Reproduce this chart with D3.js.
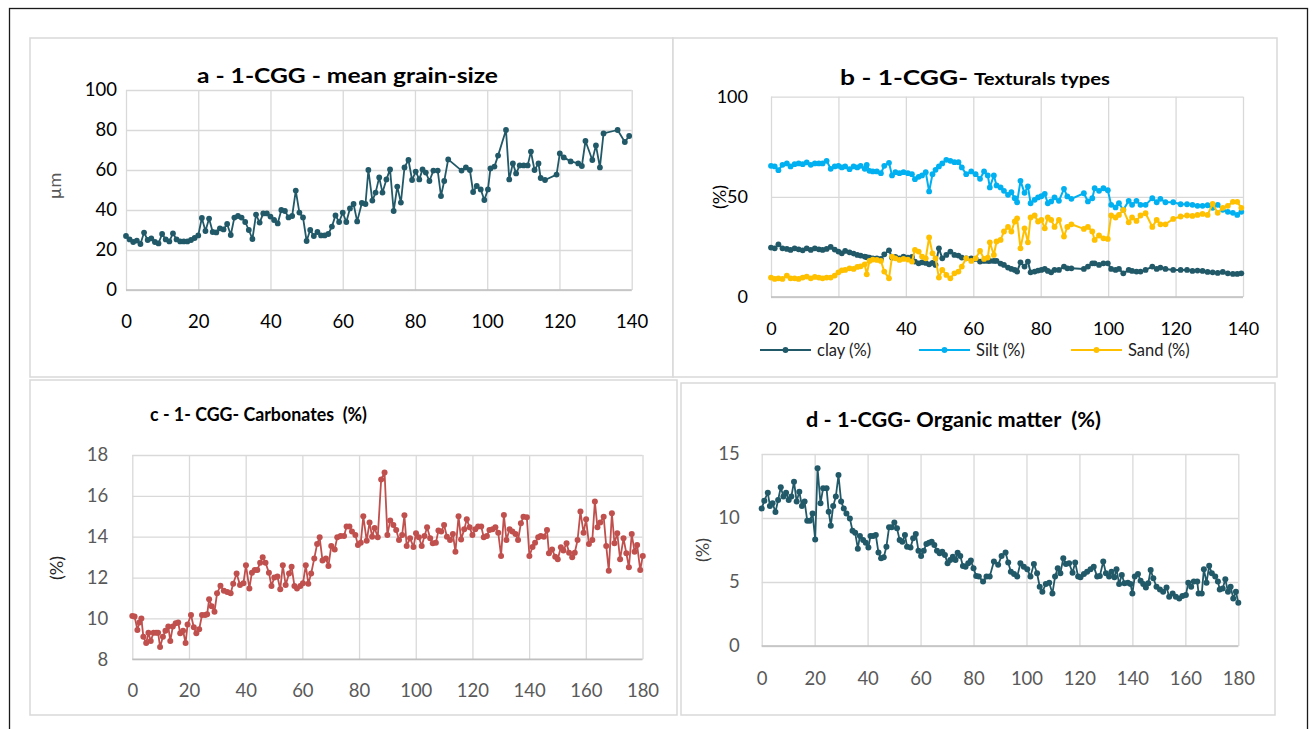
<!DOCTYPE html>
<html>
<head>
<meta charset="utf-8">
<script src="https://cdn.jsdelivr.net/npm/d3@7"></script>
<style>
  html, body { margin: 0; padding: 0; background: #fff; }
  svg { display: block; font-family: Lato, "Open Sans", "Noto Sans", sans-serif; }
  .title { white-space: pre; font-weight: 700; fill: #000; }
</style>
</head>
<body>
<svg id="fig" width="1314" height="729"></svg>
<script>
// ---------- a: mean grain-size (µm) versus depth ----------
const depthA = [0,1,2,3,4,5,6,7,8,9,10,11,12,13,14,15,16,17,18,19,20,21,22,23,24,25,26,27,28,29,30,31,32,33,34,35,36,37,38,39,40,41,42,43,44,45,46,47,48,49,50,51,52,53,54,55,56,57,58,59,60,61,62,63,64,65.3,66.3,67.1,68.2,69.1,70.1,71,72.1,73.1,74.1,75.1,76.1,77.1,78.2,79.2,80.2,81.2,82.1,83,84,85.1,86.3,87.2,88.1,89.2,92.9,94.1,95.2,96.1,97.1,98.2,99.2,100.2,100.9,102,103,105.2,106.1,107.1,108,109,110.1,111.2,112.1,113.1,114.2,114.8,116,119.2,120.1,121.2,123.1,125.2,126.2,127.2,129.1,130.1,131.2,132.2,136.1,138.1,139.3];
const grainSize = [27,25.3,24,24.7,23,28.7,25,25.8,24,23.3,28,25.3,24.3,28.3,25.3,24.3,24.3,24.3,25,26,27.3,36,29.5,35.7,29,28.8,30.8,30.3,33,27.5,36.2,37,36.2,34,30,25.5,37.7,33.7,38.3,38.3,36.7,35,33.3,40,39.5,36.3,37,49.7,38.7,36.3,24.5,30,27,29,27.3,27.3,28,31.7,37.3,34,38.7,34,40.8,43,34.3,43.5,43,60,44.7,48.7,56.3,48.7,55.3,60.3,39.5,51.7,43.7,61.3,65,55,59.2,55.3,60.3,58.7,54.5,59.7,59.7,47,54.5,65.3,59.7,61.3,60,49,52,50.3,45,50.3,60.8,61.7,67.2,80,55.3,63.3,58.3,62.3,62.3,62.3,69.2,60,63.3,56,55,57.7,68.3,66.3,64.3,63.3,62,74.5,65,72.3,61.3,78.3,80,74,77];
const ticksA_x = [0,20,40,60,80,100,120,140];
const ticksA_y = [0,20,40,60,80,100];

// ---------- b: textural fractions (%) versus depth ----------
const depthB = [0,1.1,2.2,3.4,4.7,5.8,7,8.2,9.4,10.6,11.8,13,14.2,15.3,16.5,17.7,18.9,20,21,22,23.3,24.5,25.6,26.6,27.8,28.4,29.2,30.2,31.4,32.6,33.6,35,35.9,36.9,38.1,39.3,40.6,41.8,42.7,43.8,44.8,45.9,46.9,47.9,48.8,49.8,50.8,52,53.2,54.4,55.6,56.6,57.9,59.4,60.7,62,63.2,64.3,64.9,66.1,66.9,68.1,69.1,70.3,71.3,72.3,73,74,75.2,76.2,77,78.2,79.2,80.2,81.2,82.1,83.1,84.1,85.4,86.9,87.9,89.1,92.8,94,95.3,96,97.3,98.6,99.9,100.9,102.2,103.2,104.5,106.1,107.1,108.4,109.6,111.1,113.1,114.4,115.5,117,119.3,121.5,123.4,125,126.5,128,129.5,131,132.5,134,135.5,137,138.3,139.5];
const clay = [24.7,24.3,26.3,24.3,24,23.5,24.3,23.8,23.3,24.3,23.5,24.3,23.8,23.5,24,25,23.7,22.7,21.8,23,22.3,21.7,21,20.7,20.2,19.9,19.7,19.3,19.3,19,21.3,23.3,19.7,20,19.3,20.2,19.7,20,17.7,16.8,17.3,17,16.3,17,16,24.3,19.3,21,22.7,21,20.7,19.7,19.3,19.3,19,17.7,18,18,18,18,18,16.7,16,14.7,14,13.5,12.7,17.3,15.2,17.7,12.3,12.7,13.2,13.5,14,13,12.3,13.5,13.5,15.2,14.3,14.3,14,15.2,16.8,16.8,16,16.8,16.8,14,13.5,14,11.8,13.5,13,12.7,12.7,13.5,15.2,14,14.7,14,13.5,13.5,13.5,13,13.2,13,12.5,12.3,12,12.5,11.8,11.5,11.5,11.8];
const silt = [65.5,65.2,63.3,66,66.7,65.2,66.3,66.7,66.3,67.2,66,66.7,66.7,66.7,68,64,65.2,65.5,64.7,65.2,63.8,65.2,64.7,65.5,64,66,63,62.7,62.7,61.8,65.5,67,60.7,62.3,61.8,62.3,61.8,61.3,58.8,60,60.7,62.3,52.7,61.3,63.5,65.2,66.7,68.5,68,67.3,67.3,64.7,61.3,62.7,61.3,59,62.7,60.7,54.7,60.7,55.7,54.7,53,51,52.3,49.3,47.3,58,52,55.2,46.8,48.5,49.7,50.3,51.5,46.8,47.7,49.7,48,54,50.2,49,51.8,47.7,49.3,54.3,53,54.3,53.3,46,44.7,46.8,43.5,48,46,48,46,46,49.3,47.3,49,47.3,47.3,46.3,46.3,46,45.5,45.5,45.8,44.5,46,43.5,42.5,42,41,42.5];
const sand = [9.7,9,9.3,9,10.7,9.3,9.3,9,9.7,10.2,9.3,10,9.7,9.3,9.7,9.7,10.7,12.3,13.3,13.5,14.3,14,15,15.3,16.3,11.3,18,18.7,18.5,18,12.7,9.3,20.2,19.3,18.5,19,18.7,17.7,23.5,22.7,20.2,19.3,29.7,21.8,19.3,9.7,13.5,11,9.3,11.8,12.7,15.2,19.3,18,19.3,23,19,19.7,27.3,21,27.7,28.5,32.7,35,32.7,37.7,39.3,24.3,34.3,27.3,39.7,40.7,37.7,38.5,34.3,39.7,38.5,35,38.5,30.2,35,36.3,34,35,32.7,28.5,30.7,29.3,29,40.7,39.7,41,43.5,37.3,39.7,38,40.7,41.8,35,38.5,36.3,36.3,39,40.2,40.7,40.5,41,41.5,41,46.5,42,44.5,45.5,47.5,47.5,44.5];
const ticksB_x = [0,20,40,60,80,100,120,140];
const ticksB_y = [0,50,100];
const seriesB = ["clay (%)", "Silt (%)", "Sand (%)"];

// ---------- c: carbonates (%) versus depth ----------
const depthC = [0,0.8,1.8,2.5,3.2,3.9,4.9,5.7,6.5,7.5,8.4,9.1,9.8,10.8,11.7,12.7,13.4,14.3,15.3,16.2,16.9,17.9,18.8,19.5,20.7,21.7,22.6,23.6,24.6,25.7,26.4,27.1,28,29,29.9,31.1,32.3,33.5,34.7,35.6,36.8,38,39.2,40.1,41.3,42.2,43.2,44.1,45.1,46,47,48.2,49.1,50.1,51.2,52.2,53.1,54.1,55.3,56.2,57.2,58.1,59.3,60.2,61.2,62.1,63.1,64.2,65.2,66.1,67.1,68.3,69.2,70.2,71.4,72.3,73.5,74.7,75.6,76.6,77.5,78.7,79.6,80.6,81.5,82.7,83.7,84.6,85.5,86.6,87.8,89,90,91,92.1,93.1,94.1,95.2,96,96.8,98,99.2,100.1,101.1,102.1,103.1,104,105.1,106,107.1,108,109,110,111,112.1,113.1,114,115.1,116,117.1,118,119,120,121,122,123.1,124,125.1,126,127.1,128.1,129.1,130.1,131.1,132,133.1,134.1,135.2,136.1,137.1,138,139.2,140.1,141.2,142.1,143.2,144.1,145.2,146.3,147,148.1,149.2,150.1,151.2,152.1,153.2,154.1,155.2,156.1,157.1,158.1,159.2,160.1,161.1,162.3,163.2,164.1,165.1,166.3,167.2,168.1,169.2,170.1,171.1,172.1,173.3,174.3,175.2,176.2,177.2,178.1,179.2,180.1];
const carbonates = [10.12,10.1,9.44,9.8,10,9.1,8.8,9.3,8.9,9.3,9.3,9.3,8.6,9.1,9.4,9.6,8.9,9.6,9.76,9.8,9.27,9.4,8.8,9.7,10.17,9.57,9.27,9.47,10.17,10.17,10.2,10.94,10.6,10.33,11.23,11.6,11.36,11.3,11.23,11.7,12.2,11.64,11.72,12.6,11.47,12.24,12.37,12.37,12.73,12.99,12.73,12.24,11.59,12,12.05,11.43,12.6,11.64,12.2,12.53,11.59,11.46,11.59,11.72,12.6,11.7,12.2,12.94,13.64,13.97,12.83,12.94,12.57,13.55,13.38,13.97,14.04,14.04,14.5,14.5,14.25,14.08,13.6,13.7,15,13.8,14.7,14,14.43,13.97,16.8,17.14,14.08,14.8,14.57,14.33,13.84,14.08,15.05,13.55,13.92,13.5,14.17,13.97,13.55,14.04,14.46,13.92,13.68,13.7,14.3,14.25,14.57,14,13.84,14.13,13.27,15,13.87,14.36,14.85,14.46,14.08,14.36,14.5,14.5,13.97,14.04,14.33,14.36,14.46,14.2,13.06,15.06,13.84,14.36,14.25,14.13,13.84,14.66,14.98,14.95,13.06,13.5,13.7,13.97,14.04,14,14.33,13.19,13.38,13.02,12.9,13.48,13.32,13.68,13.22,12.99,13.22,13.84,15.23,14.2,14.85,13.64,13.84,15.72,14.46,14.69,14.98,13.55,12.34,15.15,13.68,14.17,12.9,13.92,13.19,12.5,14.13,13.27,13.6,12.37,13.06];
const ticksC_x = [0,20,40,60,80,100,120,140,160,180];
const ticksC_y = [8,10,12,14,16,18];

// ---------- d: organic matter (%) versus depth ----------
const depthD = [0,1,2.3,3.1,4.1,5.2,6.2,7.2,8.2,9.2,10.2,11.2,12.2,13.2,14.2,15.2,16.2,17.2,18.2,19.2,20.2,21.1,22.2,23.2,24.5,25.3,26.1,27,28,29,30,31,32,33.3,34.3,35.3,36.3,37.1,38.3,39.3,40.3,41.1,42.1,43.1,44.1,45.1,46.1,47.1,48.1,49.1,50.1,51.1,52.1,53.1,54.1,54.9,56.2,57.2,58.2,59.2,60.2,61.2,62.2,63.2,64.2,65.2,66.2,67.2,68.2,69.2,70.2,71.2,72.2,73.2,74,75,76,77,78,79,80,81,82,83.6,84.9,86.1,87.7,89.3,90.6,92.1,93.1,94.1,95.3,96.5,97.7,99,100.3,101.5,102.8,104,105,106,107.3,108.6,109.8,110.8,111.8,112.8,113.9,114.9,116.1,117.4,118.4,119.5,120.4,121.7,122.9,124.2,125.4,126.7,127.7,129,130,131.2,132.1,133.2,134,135,136,137,138.3,139.3,140,140.9,142.1,143.1,144.1,145.1,146,146.9,147.9,149.1,150.4,151.6,152.9,153.9,155.2,156.4,157.7,158.9,160.2,161.1,162.2,163.2,164.5,165,166.2,167,168,169,170,171.3,172.3,173,174.1,175.1,176.1,177.1,178.1,179.1,180];
const organicMatter = [10.75,11.35,11.98,10.94,11.15,10.47,11.4,12.4,11.67,11.98,11.4,11.67,12.84,11.28,12.06,10.94,11.28,9.79,9.79,10.36,8.33,13.88,11.15,12.32,12.32,10.49,9.4,10.94,11.67,13.36,11.28,10.75,10.36,9.97,9,8.85,7.6,8.6,8.28,8.07,7.7,8.6,8.6,8.67,7.3,6.85,6.93,7.76,9.27,9.27,9.64,9.19,8.28,8.15,8.67,7.76,7.7,8.41,8.75,7.45,7.03,7.45,7.97,8.07,8.15,7.89,7.45,7.24,7.37,7.11,6.46,6.72,6.98,6.72,7.29,7.03,6.25,6.2,6.46,6.67,6.07,5.47,5.42,5.03,5.42,5.42,6.6,6.34,7.04,7.3,6.52,5.81,5.63,5.42,6.47,6.2,6,5.42,6.41,5.68,4.63,4.24,4.84,4.95,4.11,5.42,6.07,5.68,6.86,6.41,6.47,5.73,6.52,5.42,5.37,5.63,5.81,6,6.2,5.42,5.47,6.6,5.68,5.42,5.81,5.37,6,4.84,5.55,4.9,4.95,4.84,4.11,5.42,5.63,5.1,4.84,4.58,4.9,5.94,5.29,4.63,4.42,4.24,4.58,3.85,4.11,3.85,3.72,3.9,3.98,4.95,4.63,5.03,5.03,4.11,4.11,6,4.95,6.26,5.68,5.42,5.03,4.42,4.5,5.21,4.24,4.63,3.72,4.24,3.38];
const ticksD_x = [0,20,40,60,80,100,120,140,160,180];
const ticksD_y = [0,5,10,15];

// ---------- colours ----------
const TEAL = "#215968", SKY = "#00b0f0", GOLD = "#ffc000", BRICK = "#c0504d";
const GRID = "#d9d9d9", AXIS = "#bfbfbf";

const svg = d3.select("#fig");

// outer frame of the figure
svg.append("rect")
  .attr("x", 9.5).attr("y", 8.5).attr("width", 1298).attr("height", 760)
  .attr("fill", "none").attr("stroke", "#1a1a1a").attr("stroke-width", 1.3);

// chart-area boxes
const boxes = [
  {x: 30, y: 38, w: 643, h: 339},
  {x: 673, y: 38, w: 604, h: 339},
  {x: 30, y: 380, w: 647, h: 335},
  {x: 681, y: 383, w: 594, h: 332}
];
svg.selectAll("rect.box").data(boxes).join("rect")
  .attr("class", "box")
  .attr("x", d => d.x).attr("y", d => d.y).attr("width", d => d.w).attr("height", d => d.h)
  .attr("fill", "#fff").attr("stroke", GRID).attr("stroke-width", 1.5);

// one XY panel: grid, axes, tick labels and the plotted series
function panel(o) {
  const x = d3.scaleLinear().domain(o.xDomain).range([o.left, o.right]);
  const y = d3.scaleLinear().domain(o.yDomain).range([o.bottom, o.top]);
  const g = svg.append("g");

  // horizontal gridlines
  g.append("g").attr("transform", `translate(${o.left},0)`)
    .call(d3.axisLeft(y).tickValues(o.yTicks).tickSize(-(o.right - o.left)).tickFormat(""))
    .call(s => s.select(".domain").remove())
    .selectAll("line").attr("stroke", GRID).attr("stroke-width", 1.3);

  // vertical gridlines
  g.append("g").attr("transform", `translate(0,${o.bottom})`)
    .call(d3.axisBottom(x).tickValues(o.xTicks).tickSize(-(o.bottom - o.top)).tickFormat(""))
    .call(s => s.select(".domain").remove())
    .selectAll("line").attr("stroke", GRID).attr("stroke-width", 1.3);

  // horizontal axis line
  g.append("line")
    .attr("x1", x(o.xDomain[0])).attr("x2", x(o.xDomain[1]))
    .attr("y1", y(o.yDomain[0])).attr("y2", y(o.yDomain[0]))
    .attr("stroke", AXIS).attr("stroke-width", 1.6);

  // tick labels
  const yAx = g.append("g").attr("transform", `translate(${o.left},0)`)
    .call(d3.axisLeft(y).tickValues(o.yTicks).tickSize(0).tickPadding(o.yPad).tickFormat(d3.format("d")));
  const xAx = g.append("g").attr("transform", `translate(0,${o.bottom})`)
    .call(d3.axisBottom(x).tickValues(o.xTicks).tickSize(0).tickPadding(o.xPad).tickFormat(d3.format("d")));
  [yAx, xAx].forEach(a => {
    a.select(".domain").remove();
    a.selectAll("text").attr("fill", o.tickColor).style("font-size", o.tickSize + "px")
      .style("font-family", "Lato, 'Open Sans', sans-serif");
  });

  // series
  o.series.forEach(s => {
    const pts = s.depth.map((d, i) => [d, s.values[i]]);
    g.append("path")
      .datum(pts)
      .attr("fill", "none").attr("stroke", s.color).attr("stroke-width", o.lineWidth)
      .attr("stroke-linejoin", "round")
      .attr("d", d3.line().x(d => x(d[0])).y(d => y(d[1])));
    g.append("g").selectAll("circle").data(pts).join("circle")
      .attr("cx", d => x(d[0])).attr("cy", d => y(d[1])).attr("r", o.r)
      .attr("fill", s.color);
  });

  // axis title
  g.append("text")
    .attr("transform", `translate(${o.yLabelX},${o.yLabelY}) rotate(-90)`)
    .attr("text-anchor", "middle").attr("dy", "0.35em")
    .attr("fill", o.yLabelColor).style("font-size", o.yLabelSize + "px")
    .text(o.yLabel);

  return {x, y, g};
}

// chart title text, stretched to the width of its box
function title(txt, x, y, size, width) {
  return svg.append("text").attr("class", "title")
    .attr("x", x).attr("y", y)
    .attr("textLength", width).attr("lengthAdjust", "spacingAndGlyphs")
    .style("font-size", size + "px")
    .text(txt);
}

// a
panel({
  left: 126, right: 631.7, top: 90, bottom: 290,
  xDomain: [0, 140], yDomain: [0, 100], xTicks: ticksA_x, yTicks: ticksA_y,
  yPad: 9, xPad: 25, tickColor: "#000", tickSize: 18.5,
  series: [{depth: depthA, values: grainSize, color: TEAL}],
  lineWidth: 1.8, r: 2.9,
  yLabel: "µm", yLabelX: 55, yLabelY: 186, yLabelColor: "#595959", yLabelSize: 18
});
title("a - 1-CGG - mean grain-size", 197, 83, 21, 301);

// b
panel({
  left: 771, right: 1243, top: 96.7, bottom: 297,
  xDomain: [0, 140], yDomain: [0, 100], xTicks: ticksB_x, yTicks: ticksB_y,
  yPad: 23, xPad: 25.5, tickColor: "#000", tickSize: 18,
  series: [
    {depth: depthB, values: clay, color: TEAL},
    {depth: depthB, values: silt, color: SKY},
    {depth: depthB, values: sand, color: GOLD}
  ],
  lineWidth: 2, r: 2.9,
  yLabel: "(%)", yLabelX: 720, yLabelY: 197, yLabelColor: "#000", yLabelSize: 18
});
title("b - 1-CGG-", 840, 85, 21, 128);
title("Texturals types", 974, 85, 17, 136);

// legend of b
const legendB = svg.append("g");
const legX = [760, 919, 1071];
const legColors = [TEAL, SKY, GOLD];
seriesB.forEach((name, i) => {
  const lg = legendB.append("g").attr("transform", `translate(${legX[i]},350)`);
  lg.append("line").attr("x1", 0).attr("x2", 51).attr("stroke", legColors[i]).attr("stroke-width", 2);
  lg.append("circle").attr("cx", 25.5).attr("r", 2.9).attr("fill", legColors[i]);
  lg.append("text").attr("x", 57).attr("dy", "0.35em").attr("fill", "#222")
    .style("font-size", "16.5px").text(name);
});

// c
panel({
  left: 132.3, right: 642.5, top: 455, bottom: 659.3,
  xDomain: [0, 180], yDomain: [8, 18], xTicks: ticksC_x, yTicks: ticksC_y,
  yPad: 24, xPad: 24.5, tickColor: "#595959", tickSize: 18.5,
  series: [{depth: depthC, values: carbonates, color: BRICK}],
  lineWidth: 1.8, r: 3,
  yLabel: "(%)", yLabelX: 57, yLabelY: 568, yLabelColor: "#262626", yLabelSize: 18
});
title("c - 1- CGG- Carbonates  (%)", 150, 421, 19.5, 217);

// d
panel({
  left: 761.7, right: 1238.3, top: 454, bottom: 646,
  xDomain: [0, 180], yDomain: [0, 15], xTicks: ticksD_x, yTicks: ticksD_y,
  yPad: 22, xPad: 25.5, tickColor: "#595959", tickSize: 18.5,
  series: [{depth: depthD, values: organicMatter, color: TEAL}],
  lineWidth: 1.8, r: 3,
  yLabel: "(%)", yLabelX: 703, yLabelY: 550, yLabelColor: "#404040", yLabelSize: 18
});
title("d - 1-CGG- Organic matter  (%)", 806, 427, 21, 295);
</script>
</body>
</html>
